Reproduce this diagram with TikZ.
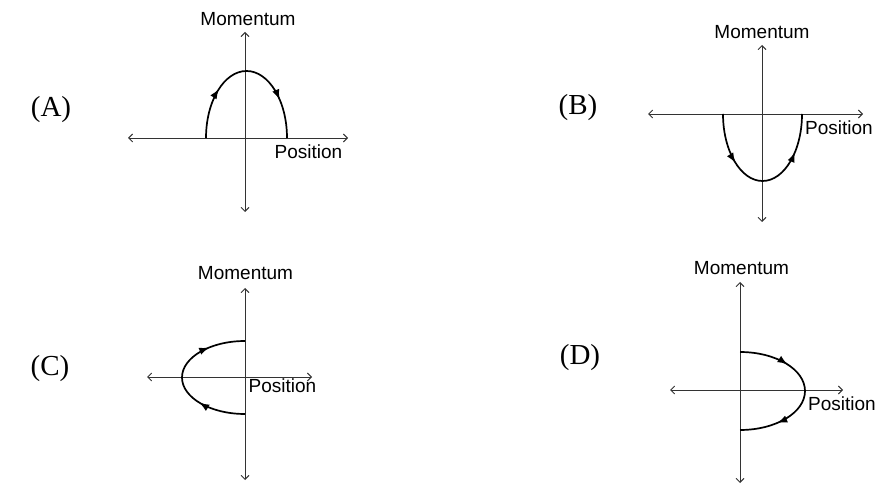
\documentclass[tikz,border=0pt]{standalone}
\usepackage{fontspec}
\setmainfont{Liberation Serif}
\newfontfamily\axfont{Liberation Sans}
\usetikzlibrary{arrows.meta,decorations.markings}
\begin{document}
\begin{tikzpicture}[x=1pt,y=1pt,
  axis/.style={line width=0.9pt, draw=black!80,
    {Straight Barb[length=4pt,width=8pt]}-{Straight Barb[length=4pt,width=8pt]}},
  orbit/.style={line width=1.7pt, postaction={decorate},
    decoration={markings,
      mark=at position 0.3 with {\arrow{Latex[length=10pt,width=7.5pt]}},
      mark=at position 0.77 with {\arrow{Latex[length=10pt,width=7.5pt]}}}},
  axlabel/.style={font=\axfont\fontsize{19}{19}\selectfont, inner sep=0pt, anchor=base},
  panel/.style={font=\fontsize{29}{29}\selectfont, inner sep=0pt, anchor=base}]
\useasboundingbox (0,0) rectangle (877,487);

% ---------- Panel A ----------
\node[panel] (labA) at (51,370) {(A)};
\coordinate (Aup) at (245,455); \coordinate (Adn) at (245,275);
\coordinate (Alf) at (128,349); \coordinate (Art) at (348,349);
\draw[axis] (Adn) -- (Aup);
\draw[axis] (Alf) -- (Art);
\node[axlabel] (momA) at (248,461) {Momentum};
\node[axlabel] (posA) at (308.5,328) {Position};
\coordinate (Astart) at (206,349);
\draw[orbit] (Astart) arc[start angle=180, end angle=0, x radius=40.5, y radius=67];

% ---------- Panel B ----------
\node[panel] (labB) at (578,372) {(B)};
\coordinate (Bup) at (762,442); \coordinate (Bdn) at (762,265);
\coordinate (Blf) at (648,373); \coordinate (Brt) at (863,373);
\draw[axis] (Bdn) -- (Bup);
\draw[axis] (Blf) -- (Brt);
\node[axlabel] (momB) at (762,448) {Momentum};
\node[axlabel] (posB) at (839,352) {Position};
\coordinate (Bstart) at (723,373);
\draw[orbit] (Bstart) arc[start angle=180, end angle=360, x radius=39.5, y radius=67];

% ---------- Panel C ----------
\node[panel] (labC) at (50,111) {(C)};
\coordinate (Cup) at (245,199); \coordinate (Cdn) at (245,7);
\coordinate (Clf) at (147,110); \coordinate (Crt) at (312,110);
\draw[axis] (Cdn) -- (Cup);
\draw[axis] (Clf) -- (Crt);
\node[axlabel] (momC) at (245.5,207) {Momentum};
\node[axlabel] (posC) at (282.5,94) {Position};
\coordinate (Cstart) at (245,73);
\draw[orbit] (Cstart) arc[start angle=270, end angle=90, x radius=63, y radius=36.5];

% ---------- Panel D ----------
\node[panel] (labD) at (580,122) {(D)};
\coordinate (Dup) at (740,205); \coordinate (Ddn) at (740,4);
\coordinate (Dlf) at (670,97); \coordinate (Drt) at (843,97);
\draw[axis] (Ddn) -- (Dup);
\draw[axis] (Dlf) -- (Drt);
\node[axlabel] (momD) at (741.5,212) {Momentum};
\node[axlabel, anchor=base east] (posD) at (876,77) {Position};
\coordinate (Dstart) at (740,135);
\draw[orbit] (Dstart) arc[start angle=90, end angle=-90, x radius=65, y radius=39];
\end{tikzpicture}
\end{document}
